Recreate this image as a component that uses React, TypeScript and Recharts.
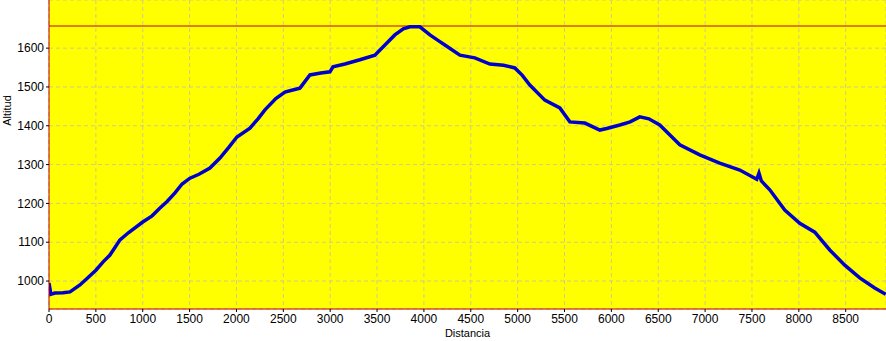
import { LineChart, Line, XAxis, YAxis, CartesianGrid, ReferenceLine } from 'recharts'

const distancia = [0, 20, 64, 150, 224, 330, 420, 500, 580, 650, 700, 757, 850, 1000, 1100, 1184, 1260, 1344, 1420, 1504, 1600, 1717, 1824, 1920, 2005, 2144, 2230, 2304, 2420, 2517, 2600, 2677, 2784, 2900, 2997, 3030, 3157, 3317, 3477, 3584, 3690, 3780, 3850, 3957, 4064, 4150, 4224, 4384, 4543, 4704, 4850, 4970, 5050, 5130, 5290, 5450, 5557, 5717, 5877, 5950, 6090, 6200, 6303, 6400, 6516, 6630, 6730, 6943, 7156, 7370, 7551, 7575, 7600, 7690, 7850, 8010, 8170, 8330, 8490, 8650, 8810, 8927]
const altitud = [995, 966, 969, 970, 972, 990, 1010, 1028, 1050, 1067, 1085, 1106, 1125, 1152, 1168, 1188, 1205, 1227, 1250, 1265, 1275, 1291, 1317, 1345, 1371, 1394, 1418, 1441, 1470, 1487, 1492, 1497, 1531, 1536, 1539, 1552, 1559, 1570, 1582, 1608, 1634, 1650, 1655, 1655, 1634, 1620, 1608, 1582, 1575, 1559, 1556, 1549, 1530, 1505, 1466, 1446, 1410, 1407, 1389, 1393, 1402, 1410, 1423, 1418, 1402, 1375, 1351, 1325, 1304, 1286, 1262, 1278, 1258, 1235, 1183, 1149, 1126, 1080, 1041, 1008, 982, 966]

const xTicks = [0, 500, 1000, 1500, 2000, 2500, 3000, 3500, 4000, 4500, 5000, 5500, 6000, 6500, 7000, 7500, 8000, 8500]
const yTicks = [1000, 1100, 1200, 1300, 1400, 1500, 1600]
const altitudMax = 1657

const data = distancia.map((d, i) => ({ d, alt: altitud[i] }))

const tickStyle = { fontSize: 12, fill: '#000', fontFamily: 'Liberation Sans' }

export default function App() {
  return (
    <div style={{ position: 'absolute', left: 0, top: 0, background: '#fff' }}>
      <LineChart width={886} height={341} data={data} margin={{ top: 0, right: 0, left: 0, bottom: 0 }}>
        <CartesianGrid fill="#FFFF00" stroke="#D2C88C" strokeDasharray="4 3" />
        <XAxis
          dataKey="d"
          type="number"
          domain={[0, 8930]}
          ticks={xTicks}
          allowDataOverflow
          height={32}
          tick={tickStyle}
          tickSize={3}
          tickLine={{ stroke: '#000' }}
          axisLine={{ stroke: '#C00000' }}
          label={{ value: 'Distancia', position: 'insideBottom', offset: 4, style: { fontSize: 11, fill: '#000', fontFamily: 'Liberation Sans' } }}
        />
        <YAxis
          type="number"
          domain={[928, 1724]}
          ticks={yTicks}
          allowDataOverflow
          width={49}
          tick={tickStyle}
          tickSize={3}
          tickLine={{ stroke: '#000' }}
          axisLine={{ stroke: '#C00000' }}
          label={{ value: 'Altitud', angle: -90, position: 'insideLeft', offset: 7, dy: -44, style: { fontSize: 11, fill: '#000', fontFamily: 'Liberation Sans', textAnchor: 'middle' } }}
        />
        <ReferenceLine y={altitudMax} stroke="#C00000" strokeWidth={1} />
        <Line dataKey="alt" stroke="#0000CC" strokeWidth={3.5} dot={false} isAnimationActive={false} />
      </LineChart>
    </div>
  )
}
